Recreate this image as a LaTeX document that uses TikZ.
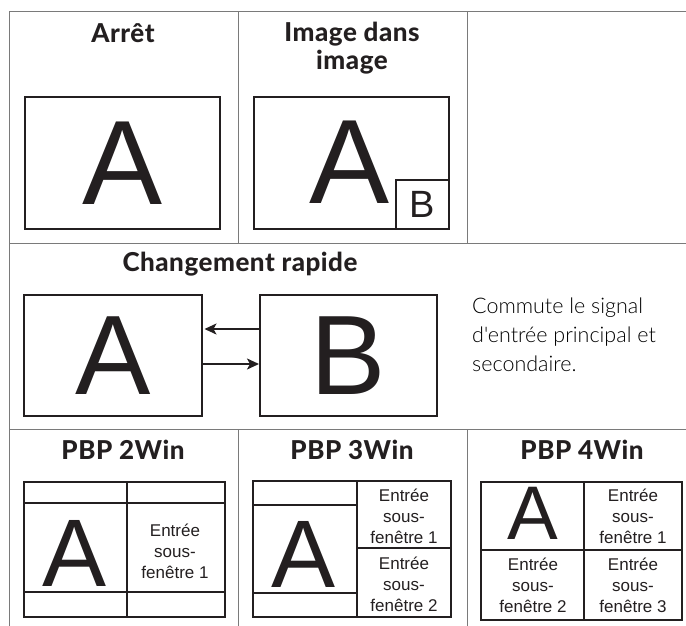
\documentclass[tikz,border=0pt]{standalone}
\usepackage{fontspec}
\setmainfont{Lato}
\newfontfamily\arial{Liberation Sans}
\IfFontExistsTF{Lato Light}{\newfontfamily\lightfont{Lato Light}}{\newfontfamily\lightfont{Lato}}
\IfFontExistsTF{Lato Heavy}{\newfontfamily\headfont{Lato Heavy}}{\newfontfamily\headfont{Lato}[UprightFont=*-Bold]}
\usetikzlibrary{arrows.meta}
\definecolor{ink}{HTML}{231F20}
\definecolor{rulegray}{HTML}{7A7A7A}
\begin{document}
\begin{tikzpicture}[x=1pt,y=-1pt,
  tablerule/.style={draw=rulegray,line width=1pt},
  scr/.style={draw=ink,line width=2.8pt,inner sep=0pt,outer sep=0pt,anchor=north west,text=ink},
  innerline/.style={draw=ink,line width=2.8pt},
  head/.style={font=\headfont\fontsize{26}{28}\selectfont\addfontfeature{LetterSpace=2},text=ink,inner sep=0pt,align=center},
  desc/.style={font=\lightfont\fontsize{21.5}{29}\selectfont,text=black,inner sep=0pt,align=left},
  sub/.style={font=\arial\fontsize{17}{21}\selectfont,text=ink,inner sep=0pt,align=center},
  bigA/.style={font=\arial\fontsize{120}{120}\selectfont,text=ink,inner sep=0pt},
  arr/.style={draw=ink,line width=1.8pt,-{Stealth[length=12pt,width=11pt,inset=3pt]}}]
\useasboundingbox (0,0) rectangle (686,626);
% table rules
\coordinate (tl) at (9,12);
\coordinate (tr) at (686,12);
\coordinate (bl) at (9,626);
\coordinate (r1l) at (9,243);
\coordinate (r1r) at (686,243);
\coordinate (r2l) at (9,429);
\coordinate (r2r) at (686,429);
\coordinate (c1a) at (238,12);
\coordinate (c1b) at (238,243);
\coordinate (c2a) at (467,12);
\coordinate (c2b) at (467,243);
\coordinate (c3a) at (238,429);
\coordinate (c3b) at (238,626);
\coordinate (c4a) at (467,429);
\coordinate (c4b) at (467,626);
\draw[tablerule] (tl) -- (tr);
\draw[tablerule] (tl) -- (bl);
\draw[tablerule] (r1l) -- (r1r);
\draw[tablerule] (r2l) -- (r2r);
\draw[tablerule] (c1a) -- (c1b);
\draw[tablerule] (c2a) -- (c2b);
\draw[tablerule] (c3a) -- (c3b);
\draw[tablerule] (c4a) -- (c4b);

% ---------- row 1 ----------
\node[head] (h1) at (123,33) {Arrêt};
\node[head] (h2) at (352,48) {Image dans\\image};
\node[scr,minimum width=195pt,minimum height=132pt,font=\arial\fontsize{120}{120}\selectfont] (arret) at (25,97) {A};
\node[scr,minimum width=195pt,minimum height=132pt] (pip) at (254,97) {};
\node[bigA] (pipa) at (350,162) {A};
\node[draw=ink,line width=2.8pt,inner sep=0pt,outer sep=0pt,anchor=south east,minimum width=53pt,minimum height=49pt,font=\arial\fontsize{38}{38}\selectfont,text=ink] (pipb) at (pip.south east) {B};

% ---------- row 2 ----------
\node[head] (h3) at (240,264) {Changement rapide};
\node[scr,minimum width=178pt,minimum height=121pt,font=\arial\fontsize{113}{113}\selectfont] (qa) at (24,295) {A};
\node[scr,minimum width=177pt,minimum height=121pt,font=\arial\fontsize{113}{113}\selectfont] (qb) at (260,295) {B};
\coordinate (ya) at (0,329);
\coordinate (yb) at (0,364);
\draw[arr,shorten >=2.5pt] (qb.west |- ya) -- (qa.east |- ya);
\draw[arr,shorten >=1pt] (qa.east |- yb) -- (qb.west |- yb);
\node[desc,anchor=base west] (dtext) at (472,371) {Commute le signal\\d'entrée principal et\\secondaire.};

% ---------- row 3 ----------
\node[head] (h4) at (123,450) {PBP 2Win};
\node[head] (h5) at (352,450) {PBP 3Win};
\node[head] (h6) at (582,450) {PBP 4Win};

% 2Win
\node[scr,minimum width=201pt,minimum height=135pt] (w2) at (24,482) {};
\coordinate (w2v) at (127,0);
\coordinate (w2h1) at (0,503);
\coordinate (w2h2) at (0,592);
\draw[innerline] (w2.north -| w2v) -- (w2.south -| w2v);
\draw[innerline] (w2.west |- w2h1) -- (w2.east |- w2h1);
\draw[innerline] (w2.west |- w2h2) -- (w2.east |- w2h2);
\node[bigA,font=\arial\fontsize{96}{96}\selectfont] (w2a) at (75,553) {A};
\node[sub] (w2t) at (175,551) {Entrée\\sous-\\fenêtre 1};

% 3Win
\node[scr,minimum width=198pt,minimum height=136pt] (w3) at (253,481) {};
\coordinate (w3v) at (357,0);
\coordinate (w3h) at (0,548);
\coordinate (w3h1) at (0,505);
\coordinate (w3h2) at (0,593);
\draw[innerline] (w3.north -| w3v) -- (w3.south -| w3v);
\draw[innerline] (w3v |- w3h) -- (w3.east |- w3h);
\draw[innerline] (w3.west |- w3h1) -- (w3v |- w3h1);
\draw[innerline] (w3.west |- w3h2) -- (w3v |- w3h2);
\node[bigA,font=\arial\fontsize{96}{96}\selectfont] (w3a) at (304,554) {A};
\node[sub] (w3t1) at (404,516) {Entrée\\sous-\\fenêtre 1};
\node[sub] (w3t2) at (404,584) {Entrée\\sous-\\fenêtre 2};

% 4Win
\node[scr,minimum width=201pt,minimum height=138pt] (w4) at (481,482) {};
\coordinate (w4v) at (584,0);
\coordinate (w4h) at (0,550);
\draw[innerline] (w4.north -| w4v) -- (w4.south -| w4v);
\draw[innerline] (w4.west |- w4h) -- (w4.east |- w4h);
\node[bigA,font=\arial\fontsize{76}{76}\selectfont] (w4a) at (533,513) {A};
\node[sub] (w4t1) at (633,516) {Entrée\\sous-\\fenêtre 1};
\node[sub] (w4t2) at (533,585) {Entrée\\sous-\\fenêtre 2};
\node[sub] (w4t3) at (633,585) {Entrée\\sous-\\fenêtre 3};
\end{tikzpicture}
\end{document}
